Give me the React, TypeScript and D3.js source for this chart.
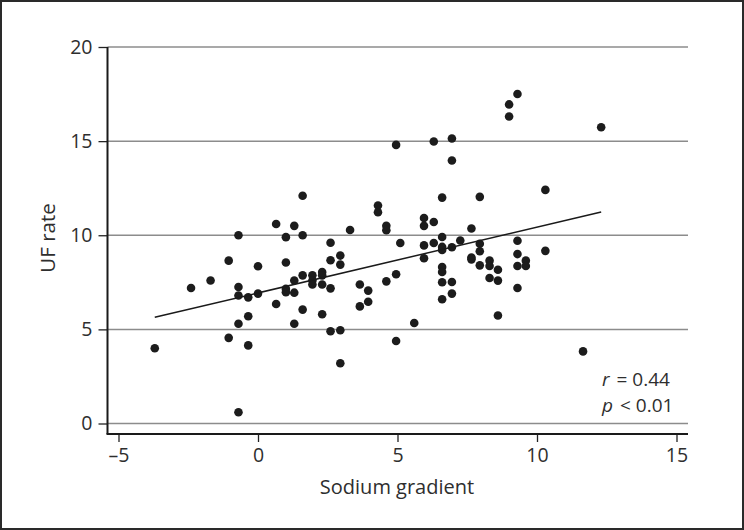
import React, { useEffect, useRef } from 'react'
import * as d3 from 'd3'

// values
const sodiumGradient = [
  -3.7, -2.4, -1.7, -1.05, -1.05, -0.7, -0.7, -0.7, -0.7, -0.7,
  -0.35, -0.35, -0.35, 0.0, 0.0, 0.65, 0.65, 1.0, 1.0, 1.0,
  1.0, 1.3, 1.3, 1.3, 1.3, 1.6, 1.6, 1.6, 1.6, 1.95,
  1.95, 1.95, 2.3, 2.3, 2.3, 2.3, 2.6, 2.6, 2.6, 2.6,
  2.95, 2.95, 2.95, 2.95, 3.3, 3.65, 3.65, 3.95, 3.95, 4.3,
  4.3, 4.6, 4.6, 4.6, 4.95, 4.95, 4.95, 5.1, 5.6, 5.95,
  5.95, 5.95, 5.95, 6.3, 6.3, 6.3, 6.6, 6.6, 6.6, 6.6,
  6.6, 6.6, 6.6, 6.6, 6.95, 6.95, 6.95, 6.95, 6.95, 7.25,
  7.65, 7.65, 7.65, 7.95, 7.95, 7.95, 7.95, 8.3, 8.3, 8.3,
  8.6, 8.6, 8.6, 9.0, 9.0, 9.3, 9.3, 9.3, 9.3, 9.3,
  9.6, 9.6, 10.3, 10.3, 11.65, 12.3
]
const ufRate = [
  4.0, 7.2, 7.6, 8.65, 4.55, 10.0, 7.25, 6.8, 5.3, 0.6,
  6.7, 5.7, 4.15, 8.35, 6.9, 10.6, 6.35, 9.9, 8.55, 7.15,
  6.97, 10.5, 7.6, 6.95, 5.3, 12.1, 10.0, 7.87, 6.05, 7.87,
  7.6, 7.38, 8.05, 7.87, 7.38, 5.8, 9.6, 8.67, 7.18, 4.9,
  8.92, 8.44, 4.95, 3.2, 10.28, 7.38, 6.22, 7.06, 6.47, 11.58,
  11.22, 10.5, 10.27, 7.55, 14.8, 7.93, 4.38, 9.59, 5.34, 10.92,
  10.5, 9.46, 8.78, 14.98, 10.7, 9.59, 12.0, 9.91, 9.38, 9.22,
  8.31, 8.05, 7.5, 6.6, 15.14, 13.97, 9.36, 7.52, 6.9, 9.72,
  10.36, 8.82, 8.72, 12.04, 9.55, 9.15, 8.4, 8.65, 8.37, 7.73,
  8.17, 7.59, 5.74, 16.95, 16.31, 17.5, 9.71, 9.0, 8.37, 7.2,
  8.65, 8.37, 12.41, 9.17, 3.83, 15.74
]
const fitX = [-3.7, 12.3]
const fitY = [5.64, 11.24]
const xTicks = [-5, 0, 5, 10, 15]
const yTicks = [0, 5, 10, 15, 20]
const statLines = [['r', '= 0.44'], ['p', '< 0.01']]

const W = 744
const H = 530
const FONT = "'Open Sans', 'Noto Sans', sans-serif"

export default function App() {
  const ref = useRef<SVGSVGElement>(null)

  useEffect(() => {
    const svg = d3.select(ref.current)
    svg.selectAll('*').remove()

    const x = d3.scaleLinear().domain([-5, 15]).range([118.5, 676.5])
    const y = d3.scaleLinear().domain([0, 20]).range([423.5, 47])
    const axisLeftX = 107.5
    const axisBottomY = 434
    const plotRight = 688

    svg.append('rect').attr('x', 1).attr('y', 1).attr('width', W - 2).attr('height', H - 2)
      .attr('fill', '#fff').attr('stroke', '#2a2a2a').attr('stroke-width', 2)

    // horizontal grid
    svg.append('g').selectAll('line').data(yTicks).join('line')
      .attr('x1', axisLeftX).attr('x2', plotRight)
      .attr('y1', d => y(d)).attr('y2', d => y(d))
      .attr('stroke', '#8c8c8c').attr('stroke-width', 1.5)

    // y axis
    const yg = svg.append('g').attr('transform', `translate(${axisLeftX},0)`)
      .call(d3.axisLeft(y).tickValues(yTicks).tickSize(9).tickPadding(6).tickSizeOuter(0))
    yg.select('.domain').remove()
    yg.selectAll('line').attr('stroke', '#222').attr('stroke-width', 1.3)
    yg.selectAll('text').attr('font-family', FONT).attr('font-size', 19.5).attr('fill', '#2e2e2e')
      .attr('dy', '0.33em')

    // x axis
    const xg = svg.append('g').attr('transform', `translate(0,${axisBottomY})`)
      .call(d3.axisBottom(x).tickValues(xTicks).tickSize(8).tickPadding(6).tickSizeOuter(0)
        .tickFormat(d => (+d < 0 ? '\u2013' + Math.abs(+d) : String(d))))
    xg.select('.domain').remove()
    xg.selectAll('line').attr('stroke', '#222').attr('stroke-width', 1.3)
    xg.selectAll('text').attr('font-family', FONT).attr('font-size', 19.5).attr('fill', '#2e2e2e')

    // axis lines
    svg.append('line').attr('x1', axisLeftX).attr('x2', axisLeftX).attr('y1', y(20)).attr('y2', axisBottomY)
      .attr('stroke', '#1a1a1a').attr('stroke-width', 2)
    svg.append('line').attr('x1', axisLeftX - 1).attr('x2', plotRight).attr('y1', axisBottomY).attr('y2', axisBottomY)
      .attr('stroke', '#1a1a1a').attr('stroke-width', 2)

    // points
    svg.append('g').selectAll('circle').data(sodiumGradient).join('circle')
      .attr('cx', d => x(d)).attr('cy', (d, i) => y(ufRate[i])).attr('r', 4.3)
      .attr('fill', '#1c1c1c')

    // regression line
    const line = d3.line<number>().x(d => x(d)).y((d, i) => y(fitY[i]))
    svg.append('path').attr('d', line(fitX)).attr('fill', 'none')
      .attr('stroke', '#1a1a1a').attr('stroke-width', 1.5)

    // titles
    svg.append('text').text('Sodium gradient').attr('x', 397).attr('y', 494)
      .attr('text-anchor', 'middle').attr('font-family', FONT).attr('font-size', 20).attr('fill', '#2e2e2e')
    svg.append('text').text('UF rate').attr('transform', 'translate(55,238) rotate(-90)')
      .attr('text-anchor', 'middle').attr('font-family', FONT).attr('font-size', 20.5).attr('fill', '#2e2e2e')

    // stats annotation
    const st = svg.append('g').attr('font-family', FONT).attr('font-size', 19).attr('fill', '#2e2e2e')
    statLines.forEach((s, i) => {
      const t = st.append('text').attr('x', 602).attr('y', 385.5 + i * 26.5)
      t.append('tspan').attr('font-style', 'italic').text(s[0])
      t.append('tspan').attr('dx', 7).text(s[1])
    })
  }, [])

  return (
    <svg ref={ref} width={W} height={H}
      style={{ position: 'absolute', left: 0, top: 0, background: '#fff' }} />
  )
}
